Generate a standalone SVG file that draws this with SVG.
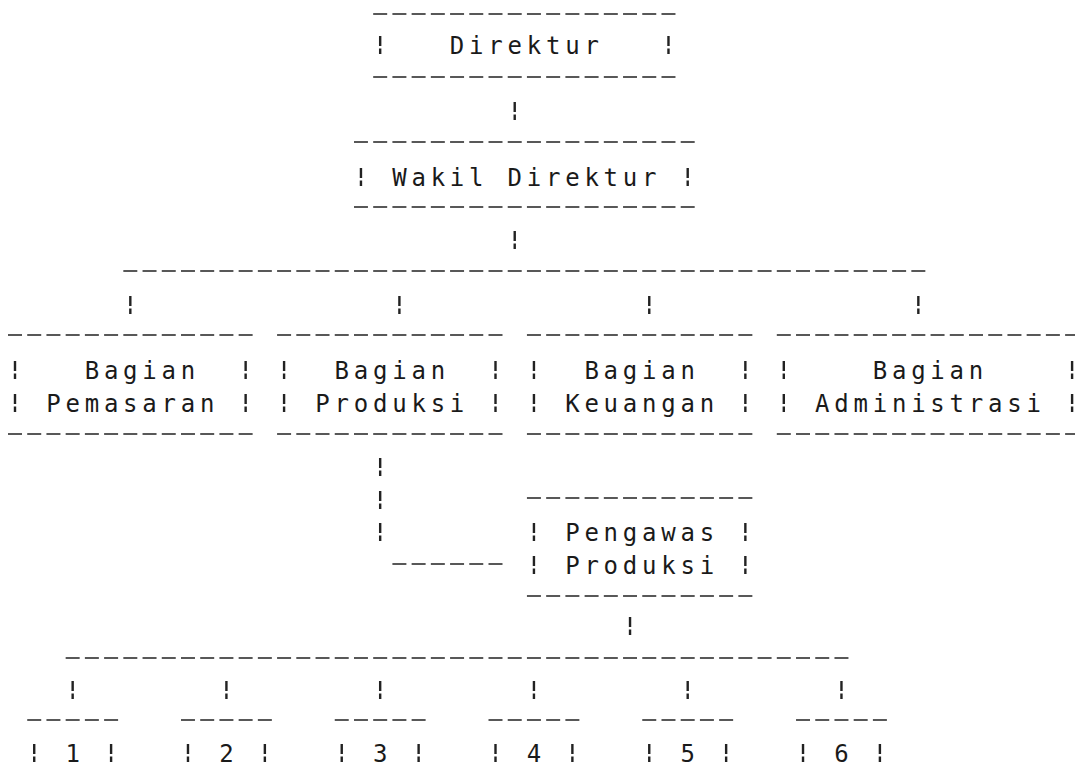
<svg xmlns="http://www.w3.org/2000/svg" xmlns:xlink="http://www.w3.org/1999/xlink" width="1075" height="784" viewBox="0 0 1075 784">
<style>
.ln{stroke:#222;stroke-width:1.7;stroke-dasharray:14 5.22;fill:none}
.br{stroke:#222;stroke-width:2.4;stroke-dasharray:10 2.5 5.5 100;fill:none}
.t{font-family:"DejaVu Sans Mono","Liberation Mono",monospace;font-size:24px;letter-spacing:4.77px;fill:#1a1a1a}
</style>
<defs>
<line id="bar" class="br" x1="0" y1="-9" x2="0" y2="9"/>
</defs>
<rect width="1075" height="784" fill="#fff"/>

<g id="connectors">
<use href="#bar" x="514.72" y="111"/>
<use href="#bar" x="514.72" y="240"/>
<line class="ln" x1="123.32" y1="271" x2="925.36" y2="271"/>
<use href="#bar" x="130.32" y="305"/>
<use href="#bar" x="399.4" y="305"/>
<use href="#bar" x="649.26" y="305"/>
<use href="#bar" x="918.34" y="305"/>
<use href="#bar" x="380.18" y="467"/>
<use href="#bar" x="380.18" y="500"/>
<use href="#bar" x="380.18" y="532"/>
<line class="ln" x1="392.4" y1="564" x2="502.52" y2="564"/>
<use href="#bar" x="630.04" y="626"/>
<line class="ln" x1="65.66" y1="658" x2="848.48" y2="658"/>
<use href="#bar" x="72.66" y="690"/>
<use href="#bar" x="226.42" y="690"/>
<use href="#bar" x="380.18" y="690"/>
<use href="#bar" x="533.94" y="690"/>
<use href="#bar" x="687.7" y="690"/>
<use href="#bar" x="841.46" y="690"/>
</g>

<g id="direktur">
<line class="ln" x1="373.18" y1="14" x2="675.5" y2="14"/>
<use href="#bar" x="380.18" y="45"/>
<text class="t" x="449.86" y="54">Direktur</text>
<use href="#bar" x="668.48" y="45"/>
<line class="ln" x1="373.18" y1="77" x2="675.5" y2="77"/>
</g>

<g id="wakil-direktur">
<line class="ln" x1="353.96" y1="142" x2="694.72" y2="142"/>
<use href="#bar" x="360.96" y="177"/>
<text class="t" x="392.2" y="186">Wakil Direktur</text>
<use href="#bar" x="687.7" y="177"/>
<line class="ln" x1="353.96" y1="207" x2="694.72" y2="207"/>
</g>

<g id="bagian-pemasaran">
<line class="ln" x1="8" y1="335" x2="252.66" y2="335"/>
<use href="#bar" x="15" y="370"/>
<use href="#bar" x="15" y="403"/>
<text class="t" x="84.68" y="379">Bagian</text>
<text class="t" x="46.24" y="412">Pemasaran</text>
<use href="#bar" x="245.64" y="370"/>
<use href="#bar" x="245.64" y="403"/>
<line class="ln" x1="8" y1="434" x2="252.66" y2="434"/>
</g>

<g id="bagian-produksi">
<line class="ln" x1="277.08" y1="335" x2="502.52" y2="335"/>
<use href="#bar" x="284.08" y="370"/>
<use href="#bar" x="284.08" y="403"/>
<text class="t" x="334.54" y="379">Bagian</text>
<text class="t" x="315.32" y="412">Produksi</text>
<use href="#bar" x="495.5" y="370"/>
<use href="#bar" x="495.5" y="403"/>
<line class="ln" x1="277.08" y1="434" x2="502.52" y2="434"/>
</g>

<g id="bagian-keuangan">
<line class="ln" x1="526.94" y1="335" x2="752.38" y2="335"/>
<use href="#bar" x="533.94" y="370"/>
<use href="#bar" x="533.94" y="403"/>
<text class="t" x="584.4" y="379">Bagian</text>
<text class="t" x="565.18" y="412">Keuangan</text>
<use href="#bar" x="745.36" y="370"/>
<use href="#bar" x="745.36" y="403"/>
<line class="ln" x1="526.94" y1="434" x2="752.38" y2="434"/>
</g>

<g id="bagian-administrasi">
<line class="ln" x1="776.8" y1="335" x2="1079.12" y2="335"/>
<use href="#bar" x="783.8" y="370"/>
<use href="#bar" x="783.8" y="403"/>
<text class="t" x="872.7" y="379">Bagian</text>
<text class="t" x="815.04" y="412">Administrasi</text>
<use href="#bar" x="1072.1" y="370"/>
<use href="#bar" x="1072.1" y="403"/>
<line class="ln" x1="776.8" y1="434" x2="1079.12" y2="434"/>
</g>

<g id="pengawas-produksi">
<line class="ln" x1="526.94" y1="498" x2="752.38" y2="498"/>
<use href="#bar" x="533.94" y="532"/>
<use href="#bar" x="533.94" y="565"/>
<text class="t" x="565.18" y="541">Pengawas</text>
<text class="t" x="565.18" y="574">Produksi</text>
<use href="#bar" x="745.36" y="532"/>
<use href="#bar" x="745.36" y="565"/>
<line class="ln" x1="526.94" y1="596" x2="752.38" y2="596"/>
</g>

<g id="unit-1">
<line class="ln" x1="27.22" y1="720" x2="118.12" y2="720"/>
<use href="#bar" x="34.22" y="753"/>
<text class="t" x="65.46" y="762">1</text>
<use href="#bar" x="111.1" y="753"/>
</g>
<g id="unit-2">
<line class="ln" x1="180.98" y1="720" x2="271.88" y2="720"/>
<use href="#bar" x="187.98" y="753"/>
<text class="t" x="219.22" y="762">2</text>
<use href="#bar" x="264.86" y="753"/>
</g>
<g id="unit-3">
<line class="ln" x1="334.74" y1="720" x2="425.64" y2="720"/>
<use href="#bar" x="341.74" y="753"/>
<text class="t" x="372.98" y="762">3</text>
<use href="#bar" x="418.62" y="753"/>
</g>
<g id="unit-4">
<line class="ln" x1="488.5" y1="720" x2="579.4" y2="720"/>
<use href="#bar" x="495.5" y="753"/>
<text class="t" x="526.74" y="762">4</text>
<use href="#bar" x="572.38" y="753"/>
</g>
<g id="unit-5">
<line class="ln" x1="642.26" y1="720" x2="733.16" y2="720"/>
<use href="#bar" x="649.26" y="753"/>
<text class="t" x="680.5" y="762">5</text>
<use href="#bar" x="726.14" y="753"/>
</g>
<g id="unit-6">
<line class="ln" x1="796.02" y1="720" x2="886.92" y2="720"/>
<use href="#bar" x="803.02" y="753"/>
<text class="t" x="834.26" y="762">6</text>
<use href="#bar" x="879.9" y="753"/>
</g>
</svg>
